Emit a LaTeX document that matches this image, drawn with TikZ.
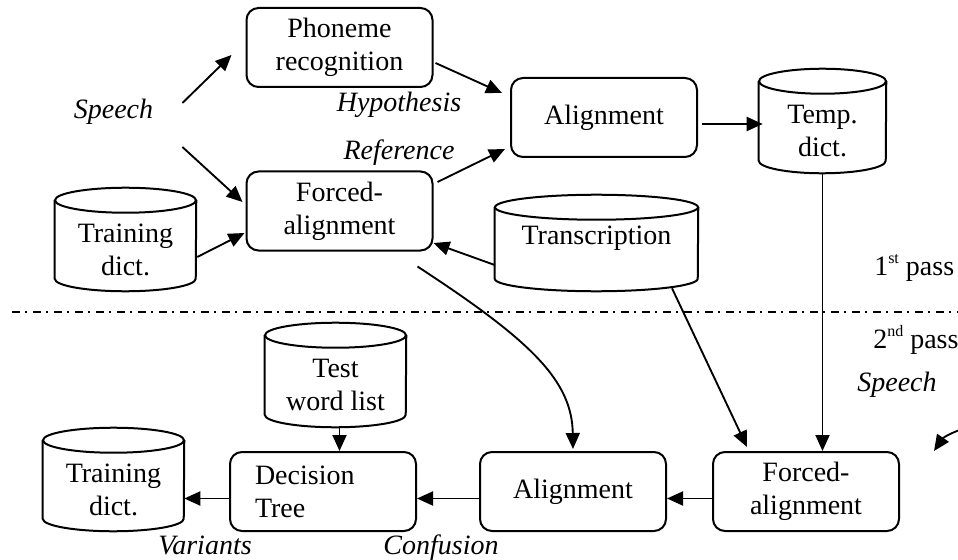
\documentclass[tikz,border=0pt]{standalone}
\usepackage{fontspec}
\setmainfont{Liberation Serif}
\usetikzlibrary{arrows.meta,calc}
\newcommand{\bigfont}{\fontsize{21}{24.75}\selectfont}
\tikzset{
 boxline/.style={line width=1.5pt},
 rbox/.style={draw, line width=1.5pt, rounded corners=9pt, align=center, inner sep=0pt,
   minimum width=139.5pt, minimum height=59.25pt},
 cyltext/.style={inner sep=0pt, align=center},
 arr/.style={line width=1.4pt, -{Triangle[length=12pt,width=10.5pt]}},
 lbl/.style={inner sep=0pt, font=\bigfont\itshape},
 plain/.style={inner sep=0pt},
}
\newcommand{\dbcyl}[7]{%
 \node[inner sep=0pt, minimum width=#4*0.75pt, minimum height=#5*0.75pt] (#1) at (#2,#3) {};
 \draw[boxline] ($(#1.north west)+(0,12.5)$) -- ($(#1.south west)+(0,-12.5)$)
   arc[start angle=180,end angle=360,x radius=#4*0.375pt,y radius=9.375pt]
   -- ($(#1.north east)+(0,12.5)$);
 \draw[boxline] ($(#1.north)+(0,12.5)$) ellipse[x radius=#4*0.375pt,y radius=9.375pt];
 \node[cyltext] (#1t) at ($(#1.center)+(0,#6)$) {#7};
}
\newcommand{\supr}[1]{\raisebox{0.9ex}{\fontsize{12}{12}\selectfont #1}}
\begin{document}
\begin{tikzpicture}[x=0.75pt,y=-0.75pt,font=\bigfont]
\useasboundingbox (0,0) rectangle (958,560);
\clip (0,0) rectangle (958,560);

% rounded boxes
\node[rbox] (phon) at (339.5,47.5) {Phoneme\\recognition};
\node[rbox] (fa1) at (339.5,211) {Forced-\\alignment};
\node[rbox] (al1) at (604,117.5) {Alignment};
\node[rbox, text width=102pt, align=left] (dt) at (323,491.5) {Decision\\Tree};
\node[rbox] (al2) at (573,491.5) {Alignment};
\node[rbox] (fa2) at (806,491.5) {Forced-\\alignment};

% cylinders
\dbcyl{tdA}{125.5}{239.5}{141}{103}{10}{Training\\dict.}
\dbcyl{temp}{822.5}{121}{127}{104}{10}{Temp.\\dict.}
\dbcyl{trans}{596.5}{243}{203}{96}{-5}{Transcription}
\dbcyl{test}{335.5}{375}{141}{104}{10}{Test\\word list}
\dbcyl{tdB}{113.5}{479.5}{141}{103}{10}{Training\\dict.}

% labels
\node[lbl] (sp1) at (113.5,112) {Speech};
\node[lbl] (hyp) at (399,105) {Hypothesis};
\node[lbl] (ref) at (399,153) {Reference};
\node[plain, anchor=west] (p1) at (874,268) {1\supr{st} pass};
\node[plain, anchor=west] (p2) at (873,340) {2\supr{nd} pass};
\node[lbl] (sp2) at (897,385) {Speech};
\node[lbl] (var) at (205,545) {Variants};
\node[lbl] (conf) at (441,548) {Confusion};

% separator
\coordinate (dl) at (12,312);
\coordinate (dr) at (958,312);
\draw[line width=1.2pt, dash pattern=on 6pt off 3.75pt on 1.5pt off 4.5pt] (dl) -- (dr);

% connectors
\draw[arr] ([shift={(29,-9)}]sp1.east) -- ([shift={(-14,7.5)}]phon.west);
\draw[arr] ([shift={(29,35)}]sp1.east) -- ([shift={(-3,-9)}]fa1.west);
\draw[arr] ([shift={(1,17.5)}]tdA.east) -- ([shift={(-1,22)}]fa1.west);
\draw[arr] ([shift={(2,15.5)}]phon.east) -- ([shift={(-8,-24.5)}]al1.west);
\draw[arr] ([shift={(4,-29)}]fa1.east) -- ([shift={(-5,31.5)}]al1.west);
\draw[arr] ([shift={(4,6.5)}]al1.east) -- ([shift={(4,3)}]temp.west);
\draw[arr] ([shift={(0,22)}]trans.west) -- ([shift={(0,32)}]fa1.east);
\draw[arr] ([shift={(-16,15)}]fa1.south east) .. controls (530,340) and (572,380) .. ([shift={(0,-2)}]al2.north);
\draw[arr] ([shift={(75.5,-3)}]trans.south) -- ([shift={(35,-4)}]fa2.north west);
\draw[arr] (temp.south) -- (temp.south |- fa2.north);
\coordinate (spin) at (966,428);
\draw[arr] (spin) to[bend right=20] ([shift={(34,0)}]fa2.north east);
\draw[arr] ([shift={(4,0)}]test.south) -- ([shift={(4,0)}]test.south |- dt.north);
\draw[arr] ([shift={(0,7)}]dt.west) -- ([shift={(0,7)}]dt.west -| tdB.east);
\draw[arr] ([shift={(0,7)}]al2.west) -- ([shift={(0,7)}]al2.west -| dt.east);
\draw[arr] ([shift={(0,7)}]fa2.west) -- ([shift={(0,7)}]fa2.west -| al2.east);
\end{tikzpicture}
\end{document}
